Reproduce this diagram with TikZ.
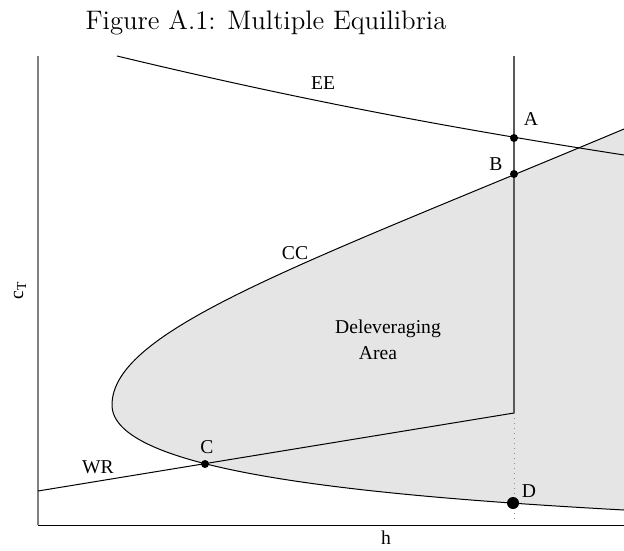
\documentclass[tikz,border=0pt]{standalone}
\usepackage{fontspec}
\newfontfamily\lblfont{Liberation Serif}
\usetikzlibrary{positioning}

\begin{document}
\begin{tikzpicture}[
    x=0.5pt, y=-0.5pt,
    lbl/.style={font=\lblfont\fontsize{9.8}{11}\selectfont, inner sep=0pt},
    curve/.style={black, line width=0.5pt},
    axis/.style={line width=0.5pt},
    dot/.style={circle, fill=black, inner sep=0pt, minimum size=4pt},
    bigdot/.style={dot, minimum size=6pt},
    area/.style={fill=black!10}
]
\useasboundingbox (0,0) rectangle (624,550);

\node[anchor=base, font=\fontsize{13.4}{16}\selectfont] (title) at (266,30) {Figure A.1: Multiple Equilibria};

% deleveraging area
\fill[area] (624,129) .. controls (300,265) and (112,330) .. (112,405)
    .. controls (112,470) and (350,495) .. (624,510) -- cycle;
\draw[curve] (624,129) .. controls (300,265) and (112,330) .. (112,405)
    .. controls (112,470) and (350,495) .. (624,510);

% axes
\coordinate (origin) at (38,525);
\draw[axis, black!50, line width=0.7pt] (38,56) -- (origin);
\draw[axis] (origin) -- (624,525);

% curves
\draw[curve] (117,56) .. controls (300,100) and (450,128) .. (624,155);
\coordinate (wr0) at (38,491);
\coordinate (wr1) at (514,413);
\draw[curve] (wr0) -- (wr1);
\draw[black!65, line width=0.6pt] (514,56) -- (wr1);
\draw[black!45, dotted, line width=0.5pt] (wr1) -- (514,520);

% equilibria
\node[dot] (ptA) at (514,138) {};
\node[dot] (ptB) at (514,174) {};
\node[dot] (ptC) at (205,464) {};
\node[bigdot] (ptD) at (513,503) {};

\node[lbl] (labA) at (531,119) {A};
\node[lbl] (labB) at (496,164) {B};
\node[lbl] (labC) at (207,447) {C};
\node[lbl] (labD) at (529,491) {D};
\node[lbl] (labEE) at (323,83) {EE};
\node[lbl] (labCC) at (295,253) {CC};
\node[lbl] (labWR) at (98,467) {WR};
\node[lbl] (delev) at (388,329) {Deleveraging};
\node[lbl] (area) at (378,353) {Area};

\node[lbl] (xlab) at (386,538) {h};
\node[lbl, rotate=90] (ylab) at (20,290) {c\textsubscript{T}};
\end{tikzpicture}
\end{document}
